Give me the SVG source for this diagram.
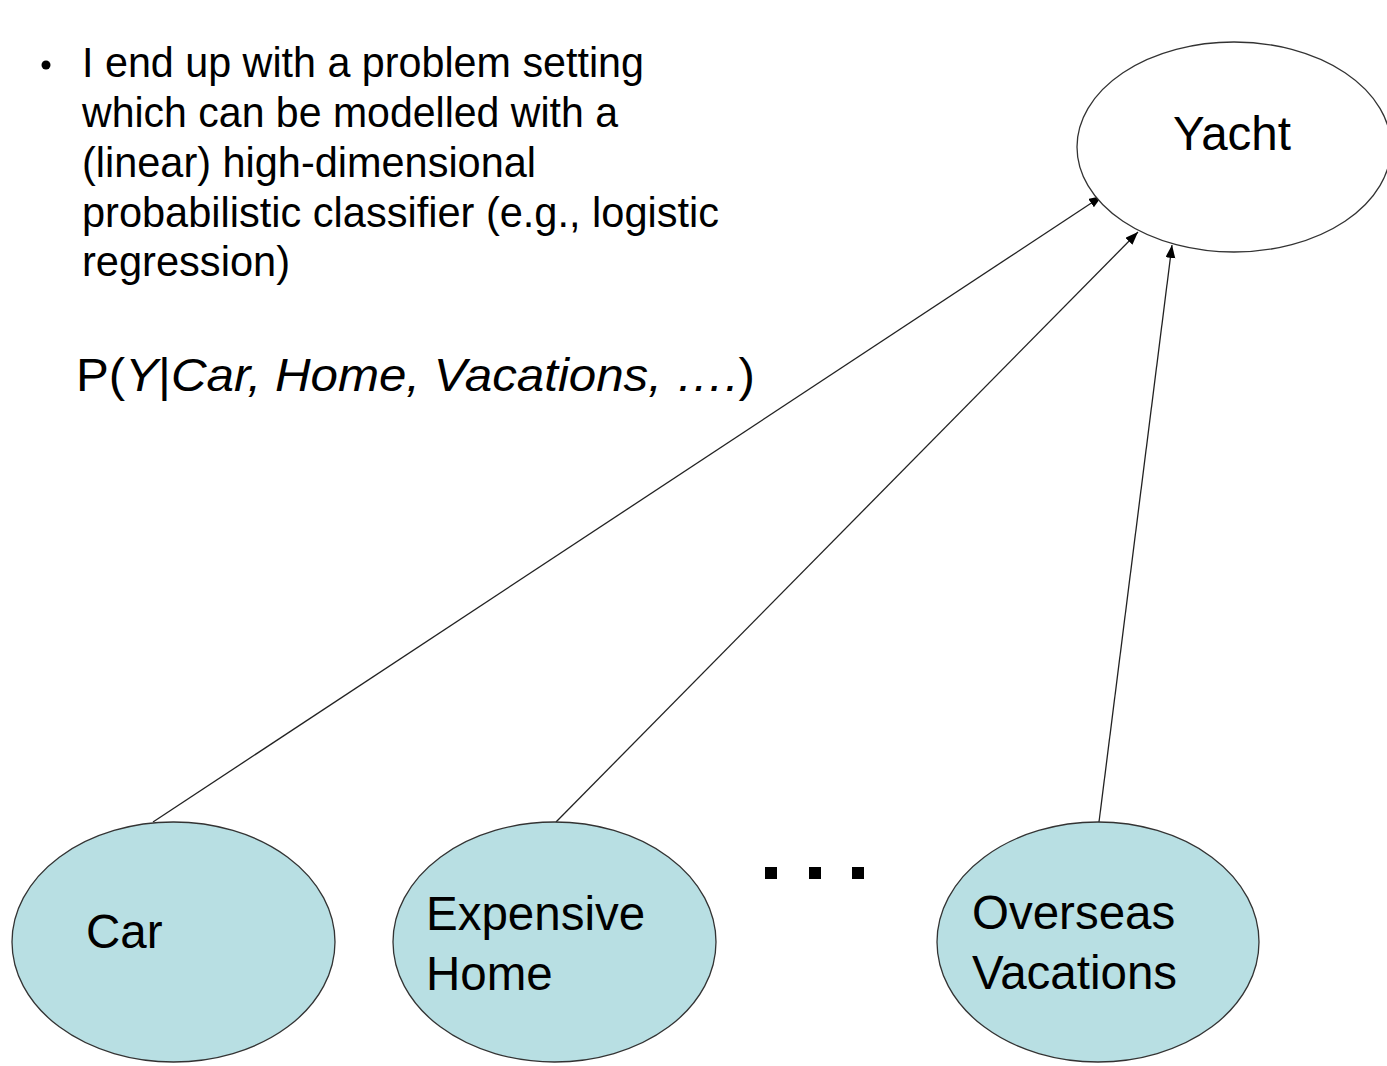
<svg xmlns="http://www.w3.org/2000/svg" width="1387" height="1066" viewBox="0 0 1387 1066">
<style>
  .txt { font-family: "Liberation Sans", Arial, sans-serif; fill: #000; }
  .body { font-size: 42px; }
  .lbl { font-size: 47.5px; }
  .var { fill: #b8dfe3; stroke: #333; stroke-width: 1.3; }
  .conn { stroke: #222; stroke-width: 1.3; fill: none; marker-end: url(#arrow); }
</style>
<defs>
  <marker id="arrow" markerUnits="userSpaceOnUse" markerWidth="14" markerHeight="12" refX="13" refY="5" orient="auto">
    <path d="M0,0 L13,5 L0,10 Z" fill="#000"/>
  </marker>
</defs>
<rect width="1387" height="1066" fill="#fff"/>

<g id="bullet-text">
  <circle cx="46" cy="65" r="4.5" fill="#000"/>
  <text class="txt body" x="82" y="77" textLength="562" lengthAdjust="spacingAndGlyphs">I end up with a problem setting</text>
  <text class="txt body" x="82" y="127" textLength="536" lengthAdjust="spacingAndGlyphs">which can be modelled with a</text>
  <text class="txt body" x="82" y="177" textLength="454" lengthAdjust="spacingAndGlyphs">(linear) high-dimensional</text>
  <text class="txt body" x="82" y="227" textLength="637" lengthAdjust="spacingAndGlyphs">probabilistic classifier (e.g., logistic</text>
  <text class="txt body" x="82" y="276" textLength="208" lengthAdjust="spacingAndGlyphs">regression)</text>
</g>

<g id="formula">
  <text class="txt" x="76" y="391" font-size="46" textLength="679" lengthAdjust="spacingAndGlyphs">P(<tspan font-style="italic">Y</tspan>|<tspan font-style="italic">Car, Home,  Vacations,  ….</tspan>)</text>
</g>

<g id="connectors">
  <line class="conn" x1="153" y1="822" x2="1102" y2="196"/>
  <line class="conn" x1="556" y1="822" x2="1138" y2="232"/>
  <line class="conn" x1="1099" y1="822" x2="1172" y2="245"/>
</g>

<g id="node-yacht">
  <ellipse cx="1234" cy="147" rx="157" ry="105" fill="#fff" stroke="#333" stroke-width="1.3"/>
  <text class="txt lbl" x="1173" y="150">Yacht</text>
</g>

<g id="node-car">
  <ellipse class="var" cx="173.5" cy="942" rx="161.5" ry="120"/>
  <text class="txt lbl" x="86" y="948">Car</text>
</g>

<g id="node-home">
  <ellipse class="var" cx="554.5" cy="942" rx="161.5" ry="120"/>
  <text class="txt lbl" x="426" y="930">Expensive</text>
  <text class="txt lbl" x="426" y="990">Home</text>
</g>

<g id="ellipsis">
  <rect x="765" y="867" width="12" height="12" fill="#000"/>
  <rect x="809" y="867" width="12" height="12" fill="#000"/>
  <rect x="852" y="867" width="12" height="12" fill="#000"/>
</g>

<g id="node-vacations">
  <ellipse class="var" cx="1098" cy="942" rx="161" ry="120"/>
  <text class="txt lbl" x="972" y="929">Overseas</text>
  <text class="txt lbl" x="972" y="989">Vacations</text>
</g>
</svg>
